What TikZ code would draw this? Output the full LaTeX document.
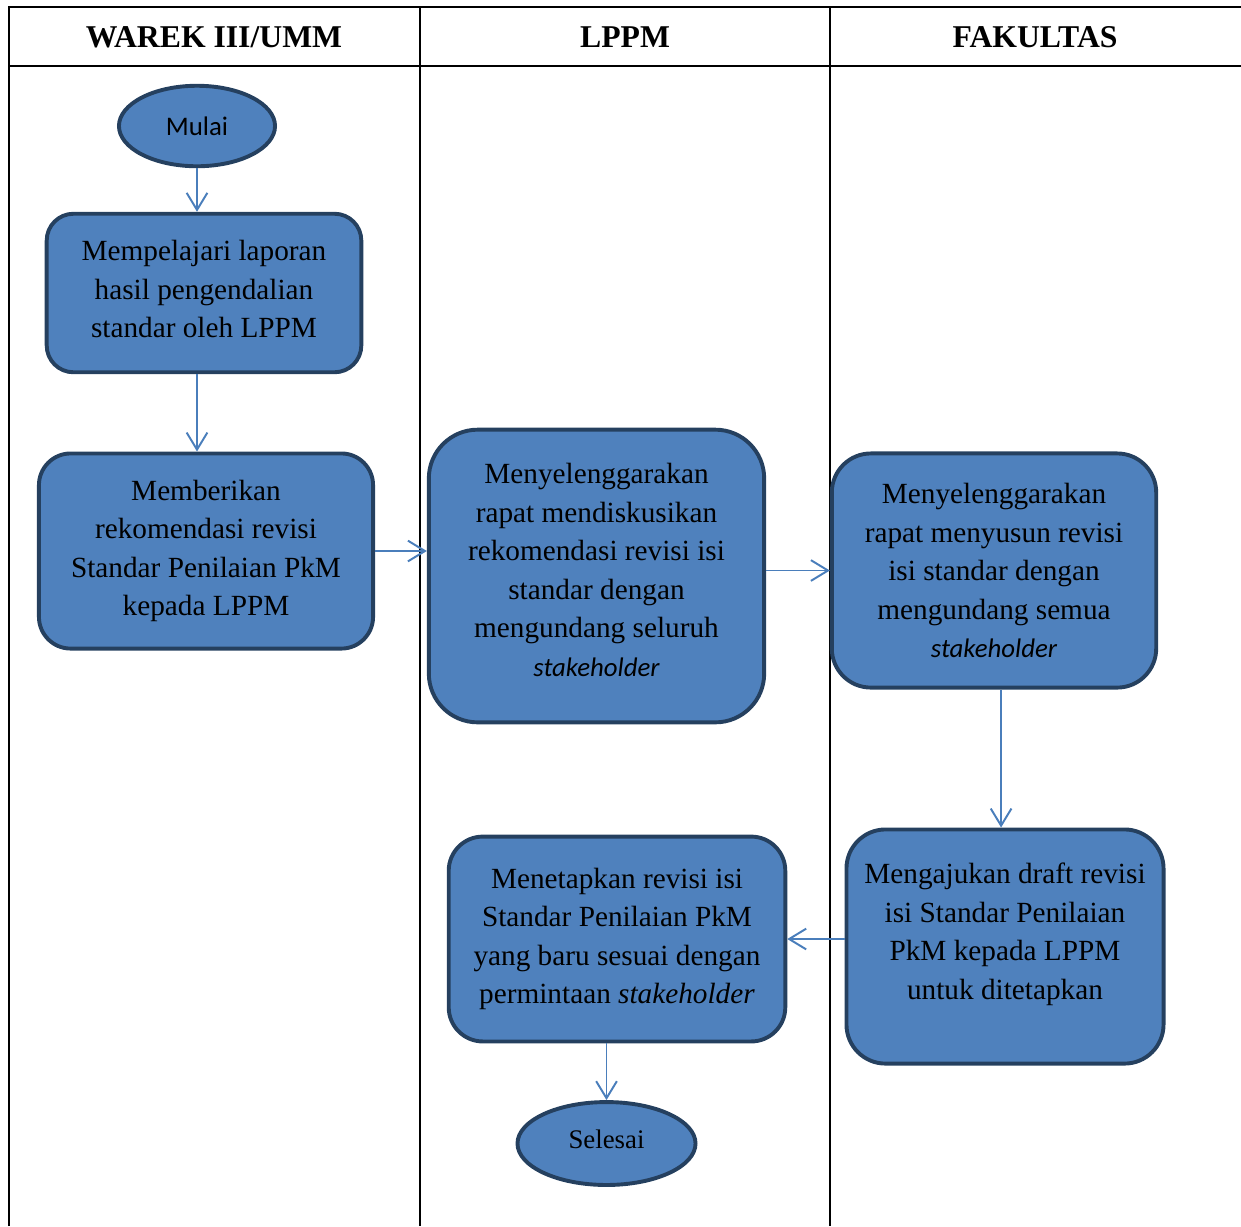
\documentclass[tikz,border=0pt]{standalone}
\usepackage{fontspec}
\setmainfont{Liberation Serif}
\newfontfamily\calibri{Carlito}
\usepackage{tikz}
\usetikzlibrary{shapes.geometric,arrows.meta,positioning}
\usepackage{xcolor}
\definecolor{flowfill}{HTML}{4F81BD}
\definecolor{flowedge}{HTML}{25405F}
\definecolor{flowarrow}{HTML}{4A7EBB}
\newcommand{\stkh}{{\calibri\itshape\fontsize{11}{15.8}\selectfont stakeholder}}

\begin{document}
\begin{tikzpicture}[
    x=0.41pt, y=-0.41pt,
    >={Straight Barb[length=7pt,width=8.5pt]},
    box/.style={rectangle, draw=flowedge, line width=1.6pt, fill=flowfill, align=center, inner sep=2pt, font=\fontsize{12}{15.8}\selectfont},
    ends/.style={ellipse, draw=flowedge, line width=1.6pt, fill=flowfill, inner sep=0pt},
    arr/.style={->, line width=0.8pt, color=flowarrow},
    lane/.style={line width=0.8pt},
    head/.style={font=\fontsize{13}{15}\selectfont\bfseries}
]
    \useasboundingbox (0,0) rectangle (1241,1226);
    % swimlane table
    \draw[lane] (9,1226) -- (9,7) -- (1241,7);
    \draw[lane] (9,66) -- (1241,66);
    \draw[lane] (420,7) -- (420,1226);
    \draw[lane] (830,7) -- (830,1226);
    \node[head] (hwarek) at (214,37) {WAREK III/UMM};
    \node[head] (hlppm) at (625,37) {LPPM};
    \node[head] (hfak) at (1035,37) {FAKULTAS};

    \node[ends, minimum width=64pt, minimum height=33pt, font=\calibri\fontsize{11}{13}\selectfont] (mulai) at (197,126) {Mulai};
    \node[box, minimum width=129pt, minimum height=65pt, rounded corners=11pt, text depth=3.2pt] (pelajari) at (204,293) {Mempelajari laporan\\hasil pengendalian\\standar oleh LPPM};
    \node[box, minimum width=137pt, minimum height=80pt, rounded corners=13pt] (rekom) at (206,551) {Memberikan\\rekomendasi revisi\\Standar Penilaian PkM\\kepada LPPM};
    \node[box, minimum width=137.5pt, minimum height=120pt, rounded corners=20pt, text depth=5pt] (rapat) at (596.5,576) {Menyelenggarakan\\rapat mendiskusikan\\rekomendasi revisi isi\\standar dengan\\mengundang seluruh\\\stkh};
    \node[box, minimum width=133pt, minimum height=96pt, rounded corners=16pt] (susun) at (994,570.5) {Menyelenggarakan\\rapat menyusun revisi\\isi standar dengan\\mengundang semua\\\stkh};
    \node[box, minimum width=130pt, minimum height=96pt, rounded corners=16pt, text depth=12.4pt] (draft) at (1005,946.5) {Mengajukan draft revisi\\isi Standar Penilaian\\PkM kepada LPPM\\untuk ditetapkan};
    \node[box, minimum width=138pt, minimum height=84pt, rounded corners=14pt, text depth=2.5pt] (tetap) at (617,939) {Menetapkan revisi isi\\Standar Penilaian PkM\\yang baru sesuai dengan\\permintaan \textit{stakeholder}};
    \node[ends, minimum width=73pt, minimum height=34pt, text depth=3.3pt, font=\fontsize{11}{13}\selectfont] (selesai) at (606.5,1143.5) {Selesai};

    \draw[arr] (mulai.south) -- (mulai.south |- pelajari.north);
    \draw[arr] (mulai.south |- pelajari.south) -- (mulai.south |- rekom.north);
    \draw[arr] (rekom.east) -- (rekom.east -| rapat.west);
    \draw[arr] (susun.west -| rapat.east) -- (susun.west);
    \draw[arr] ([xshift=2.9pt]susun.south) -- ([xshift=2.9pt]susun.south |- draft.north);
    \draw[arr] (tetap.east -| draft.west) -- (tetap.east);
    \draw[arr] (selesai.north |- tetap.south) -- (selesai.north);
\end{tikzpicture}
\end{document}
